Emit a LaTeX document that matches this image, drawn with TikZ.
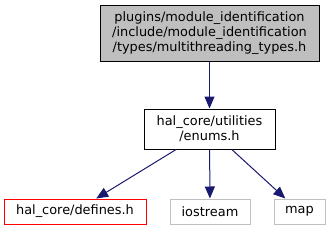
\documentclass[tikz,border=0pt]{standalone}
\usepackage{fontspec}
\setmainfont{DejaVu Sans}
\usetikzlibrary{arrows.meta}
\definecolor{edgec}{HTML}{191970}
\definecolor{grayfill}{HTML}{BFBFBF}
\begin{document}
\begin{tikzpicture}[x=1pt,y=-1pt, font=\fontsize{12.9}{15}\selectfont,
 box/.style={draw, rectangle, inner sep=0pt, line width=1pt},
 edge/.style={draw=edgec, line width=1pt, -{Triangle[length=12pt,width=10pt]}}]
\useasboundingbox (0,0) rectangle (330,231);
\node[box, fill=grayfill, minimum width=219pt, minimum height=56pt, align=center] (top) at (209.5,33) {plugins/module\_identification\\/include/module\_identification\\/types/multithreading\_types.h};
\node[box, minimum width=131pt, minimum height=40pt, align=center] (enums) at (209.5,129) {hal\_core/utilities\\/enums.h};
\node[box, draw=red, minimum width=142pt, minimum height=25pt] (def) at (75,211.5) {hal\_core/defines.h};
\node[box, draw=grayfill, minimum width=80pt, minimum height=25pt] (ios) at (210,211.5) {iostream};
\node[box, draw=grayfill, minimum width=51pt, minimum height=25pt] (map) at (299.5,211.5) {map};
\draw[edge] (top) -- (enums);
\draw[edge] (enums) -- (def);
\draw[edge] (enums) -- (ios);
\draw[edge] (enums) -- (map);
\end{tikzpicture}
\end{document}
